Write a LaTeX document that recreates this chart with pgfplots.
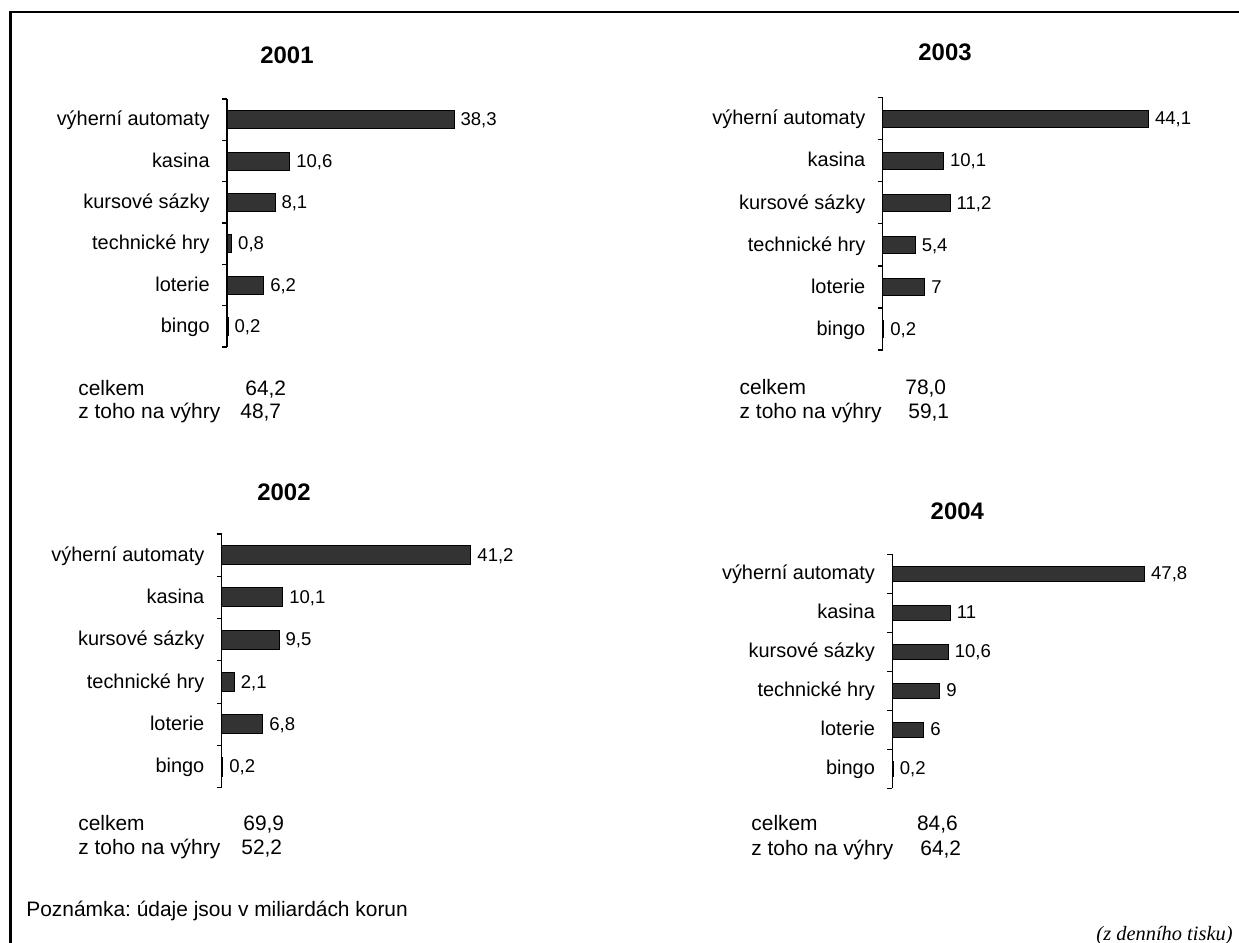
\documentclass[border=0pt]{standalone}
\usepackage{fontspec}
\setmainfont{Liberation Sans}
\newfontfamily\serif{Liberation Serif}
\usepackage{pgfplots}
\pgfplotsset{compat=1.18}
\frenchspacing

\definecolor{barfill}{HTML}{333333}

\pgfplotsset{
  /pgf/number format/use comma,
  /pgf/number format/assume math mode=true,
  panel/.style={
    xbar, clip=false, anchor=north west,
    axis x line=none, axis y line*=left,
    y dir=reverse,
    xmin=0, xmax=50, ymin=-0.5, ymax=5.5,
    ytick={0,...,5},
    yticklabels={výherní automaty, kasina, kursové sázky, technické hry, loterie, bingo},
    minor ytick={-0.5,0.5,...,5.5},
    tick align=outside, major tick length=0pt, minor tick length=2.5bp,
    tick style={black, line width=0.6bp},
    axis line style={black, line width=0.6bp},
    yticklabel style={font=\fontsize{10}{12}\selectfont, inner sep=0pt, xshift=-8.5bp,
      text height=0.72em, text depth=0.1em},
    point meta=x,
    nodes near coords={\pgfmathprintnumber{\pgfplotspointmeta}},
    nodes near coords style={font=\fontsize{9.3}{11}\selectfont, anchor=west, inner sep=0pt, xshift=3bp,
      text height=0.72em, text depth=0.1em},
  },
  bars/.style={draw=black, line width=0.5bp, fill=barfill},
}

\begin{document}
\begin{tikzpicture}
\useasboundingbox (0,0) rectangle (619.5bp,-471.5bp);
\draw[line width=1.1bp] (5.25bp,-471.5bp) -- (5.25bp,-5.9bp) -- (619.5bp,-5.9bp);

% 2001
\begin{axis}[panel, at={(113.5bp,-49.5bp)}, x=2.965bp, y=20.67bp, bar width=9bp]
\addplot[bars] coordinates {(38.3,0) (10.6,1) (8.1,2) (0.8,3) (6.2,4) (0.2,5)};
\end{axis}

% 2003
\begin{axis}[panel, at={(441.35bp,-48.85bp)}, x=3.015bp, y=21.03bp, bar width=8.65bp]
\addplot[bars] coordinates {(44.1,0) (10.1,1) (11.2,2) (5.4,3) (7,4) (0.2,5)};
\end{axis}

% 2002
\begin{axis}[panel, at={(110.85bp,-267bp)}, x=3.025bp, y=21.14bp, bar width=9.5bp]
\addplot[bars] coordinates {(41.2,0) (10.1,1) (9.5,2) (2.1,3) (6.8,4) (0.2,5)};
\end{axis}

% 2004
\begin{axis}[panel, at={(446.15bp,-277.15bp)}, x=2.64bp, y=19.5bp, bar width=7.5bp]
\addplot[bars] coordinates {(47.8,0) (11,1) (10.6,2) (9,3) (6,4) (0.2,5)};
\end{axis}

% titles
\begin{scope}[every node/.style={anchor=base, inner sep=0pt, font=\fontsize{12}{14}\selectfont\bfseries}]
\node at (143.5bp,-31.65bp) {2001};
\node at (472.5bp,-30.35bp) {2003};
\node at (142bp,-250bp) {2002};
\node at (478.65bp,-259.5bp) {2004};
\end{scope}

% totals
\begin{scope}[every node/.style={anchor=base west, inner sep=0pt, font=\fontsize{10.5}{12}\selectfont}]
\node at (39bp,-197.5bp) {celkem};
\node at (122.5bp,-197.5bp) {64,2};
\node at (39bp,-209bp) {z toho na výhry};
\node at (120bp,-209bp) {48,7};

\node at (39bp,-415bp) {celkem};
\node at (121.5bp,-415bp) {69,9};
\node at (39bp,-427.15bp) {z toho na výhry};
\node at (120.5bp,-427.15bp) {52,2};

\node at (369.65bp,-197bp) {celkem};
\node at (452.5bp,-197bp) {78,0};
\node at (369.65bp,-209bp) {z toho na výhry};
\node at (454bp,-209bp) {59,1};

\node at (375.5bp,-415bp) {celkem};
\node at (458.35bp,-415bp) {84,6};
\node at (375.5bp,-427.5bp) {z toho na výhry};
\node at (460bp,-427.5bp) {64,2};

\node at (13bp,-458bp) {Poznámka: údaje jsou v miliardách korun};
\end{scope}

\node[anchor=base east, inner sep=0pt, font=\serif\itshape\fontsize{10.25}{12}\selectfont] at (616.5bp,-470bp) {(z denního tisku)};
\end{tikzpicture}
\end{document}
